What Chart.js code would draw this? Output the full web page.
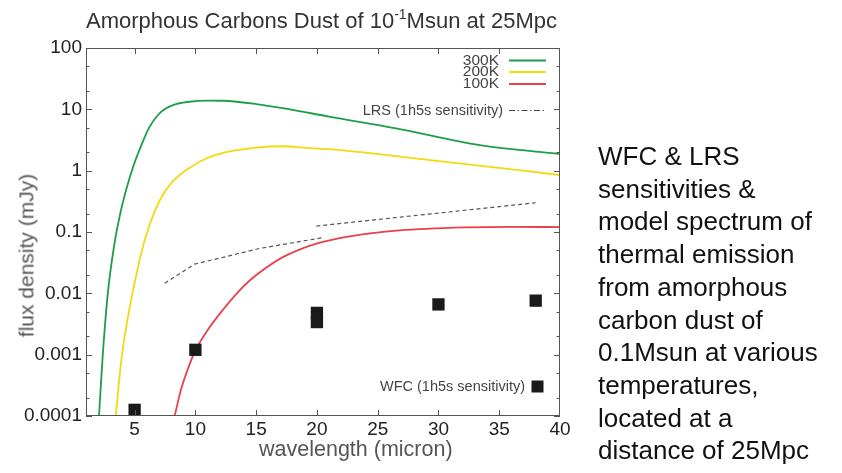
<!DOCTYPE html>
<html><head><meta charset="utf-8">
<script src="https://cdn.jsdelivr.net/npm/chart.js@4.4.1/dist/chart.umd.min.js"></script>
<style>
html,body{margin:0;padding:0;background:#fff;}
body{width:842px;height:473px;position:relative;overflow:hidden;font-family:"Liberation Sans",Arial,sans-serif;}
#c{position:absolute;left:0;top:0;}
#title{position:absolute;left:0;width:643px;top:8px;line-height:25px;text-align:center;font-size:22px;color:#333;white-space:nowrap;}
#title .sup{font-size:14px;position:relative;top:-9px;}
#xtitle{position:absolute;left:259px;top:437px;line-height:25px;font-size:21.5px;color:#555;white-space:nowrap;}
#ytitle{position:absolute;left:-74px;top:243px;width:200px;height:25px;line-height:25px;text-align:center;font-size:21px;color:#555;white-space:nowrap;transform:rotate(-90deg);}
#desc{position:absolute;left:598px;top:140px;font-size:26px;line-height:32.7px;color:#111;white-space:nowrap;}
</style>
</head><body>
<canvas id="c" width="842" height="473"></canvas>
<div id="title">Amorphous Carbons Dust of 10<span class="sup">-1</span>Msun at 25Mpc</div>
<div id="xtitle">wavelength (micron)</div>
<div id="ytitle">flux density (mJy)</div>
<div id="desc">WFC &amp; LRS<br>sensitivities &amp;<br>model spectrum of<br>thermal emission<br>from amorphous<br>carbon dust of<br>0.1Msun at various<br>temperatures,<br>located at a<br>distance of 25Mpc</div>
<script>
// ---- axis ticks ----
const xTicks = [5, 10, 15, 20, 25, 30, 35, 40];
const yTicks = [0.0001, 0.001, 0.01, 0.1, 1, 10, 100];
const yTickLabels = ['0.0001', '0.001', '0.01', '0.1', '1', '10', '100'];
const yMinorFactors = [2, 5];

// ---- model spectra (wavelength in micron, flux in mJy) ----
const seriesNames = ['300K', '200K', '100K'];
const wave300 = [2.07, 2.38, 2.8, 3.3, 3.8, 4.3, 4.9, 5.5, 6.2, 7.2, 8.2, 9.5, 11, 12.27, 15, 17.75, 21, 26.5, 33.4, 40];
const flux300 = [1e-4, 1e-3, 0.0102, 0.0575, 0.193, 0.484, 1.19, 2.44, 5.04, 9.16, 11.8, 13.3, 13.9, 13.8, 12.2, 10.0, 7.6, 4.9, 2.6, 1.87];
const wave200 = [3.45, 3.9, 4.35, 4.87, 5.83, 6.7, 7.4, 8.16, 9.53, 10.8, 12.27, 15, 17.2, 19.1, 21.5, 29.3, 40];
const flux200 = [1e-4, 7.9e-4, 0.00316, 0.0112, 0.074, 0.229, 0.427, 0.676, 1.12, 1.55, 1.95, 2.37, 2.5, 2.35, 2.2, 1.49, 0.85];
const wave100 = [8.3, 8.8, 9.4, 10, 11, 12.27, 13.64, 14.47, 15.7, 17.2, 19.95, 22.7, 26.8, 32.3, 36, 40];
const flux100 = [1e-4, 2.63e-4, 6.0e-4, 1.17e-3, 2.5e-3, 5.4e-3, 0.0112, 0.0162, 0.0251, 0.0389, 0.0646, 0.0851, 0.106, 0.119, 0.1216, 0.12];

// ---- LRS sensitivity (two segments) ----
const lrsWaveA = [7.48, 9.94, 12.6, 15.3, 20.5];
const lrsFluxA = [0.0146, 0.030, 0.040, 0.054, 0.081];
const lrsWaveB = [19.95, 38.0];
const lrsFluxB = [0.125, 0.30];

// ---- WFC sensitivity ----
const wfcWave = [5, 10, 20, 20, 30, 38];
const wfcFlux = [1.26e-4, 0.0012, 0.0048, 0.0034, 0.0066, 0.0076];

const seriesColors = ['#1f9e4a', '#f5d90f', '#e8414b'];
const FONT = '"Liberation Sans", Arial, sans-serif';

const pts = (xs, ys) => xs.map((x, i) => ({x: x, y: ys[i]}));

const lineDS = (label, xs, ys, color) => ({
  type: 'line', label: label, data: pts(xs, ys), borderColor: color, borderWidth: 1.8,
  pointRadius: 0, fill: false, cubicInterpolationMode: 'monotone'
});

const decorPlugin = {
  id: 'decor',
  afterDraw(chart) {
    const {ctx, chartArea: a, scales: {x, y}} = chart;
    ctx.save();
    ctx.strokeStyle = '#555';
    ctx.lineWidth = 1;
    ctx.strokeRect(a.left + 0.5, a.top + 0.5, a.right - a.left - 1, a.bottom - a.top - 1);
    ctx.beginPath();
    xTicks.forEach(v => {
      const px = Math.round(x.getPixelForValue(v)) + 0.5;
      if (px >= a.right - 1) return;
      ctx.moveTo(px, a.bottom); ctx.lineTo(px, a.bottom - 6);
      ctx.moveTo(px, a.top); ctx.lineTo(px, a.top + 6);
    });
    yTicks.forEach((v, i) => {
      const py = Math.round(y.getPixelForValue(v)) + 0.5;
      ctx.moveTo(a.left, py); ctx.lineTo(a.left + 6, py);
      ctx.moveTo(a.right, py); ctx.lineTo(a.right - 6, py);
      if (i < yTicks.length - 1) {
        yMinorFactors.forEach(f => {
          const my = Math.round(y.getPixelForValue(v * f)) + 0.5;
          ctx.moveTo(a.left, my); ctx.lineTo(a.left + 3.5, my);
          ctx.moveTo(a.right, my); ctx.lineTo(a.right - 3.5, my);
        });
      }
    });
    ctx.stroke();

    // legend: temperatures
    const tx = a.right - 61, lx0 = a.right - 51, lx1 = a.right - 14;
    const ly = [a.top + 12.5, a.top + 24, a.top + 36];
    ctx.font = '15.5px ' + FONT;
    ctx.textAlign = 'right';
    ctx.textBaseline = 'middle';
    seriesNames.forEach((n, i) => {
      ctx.fillStyle = '#444';
      ctx.fillText(n, tx, ly[i]);
      ctx.strokeStyle = seriesColors[i];
      ctx.lineWidth = 1.8;
      ctx.beginPath(); ctx.moveTo(lx0, ly[i]); ctx.lineTo(lx1, ly[i]); ctx.stroke();
    });
    // legend: LRS
    const lrsY = a.top + 62.5;
    ctx.font = '14.5px ' + FONT;
    ctx.fillStyle = '#444';
    ctx.fillText('LRS (1h5s sensitivity)', a.right - 57, lrsY);
    ctx.strokeStyle = '#444';
    ctx.lineWidth = 1;
    ctx.setLineDash([6, 2.5, 1.5, 2.5]);
    ctx.beginPath(); ctx.moveTo(lx0, lrsY); ctx.lineTo(a.right - 15, lrsY); ctx.stroke();
    ctx.setLineDash([]);
    // legend: WFC
    const wfcY = a.top + 338.5;
    ctx.fillText('WFC (1h5s sensitivity)', a.right - 35, wfcY);
    ctx.fillStyle = '#1a1a1a';
    ctx.fillRect(a.right - 28.5, wfcY - 6, 12, 12);
    ctx.restore();
  }
};

new Chart(document.getElementById('c'), {
  type: 'line',
  data: {
    datasets: [
      {
        type: 'scatter', label: 'WFC', data: pts(wfcWave, wfcFlux), pointStyle: 'rect',
        pointRadius: 8.7, pointHoverRadius: 8.7, backgroundColor: '#1a1a1a', borderWidth: 0, showLine: false, order: 0
      },
      Object.assign(lineDS('300K', wave300, flux300, seriesColors[0]), {order: 1}),
      Object.assign(lineDS('200K', wave200, flux200, seriesColors[1]), {order: 2}),
      Object.assign(lineDS('100K', wave100, flux100, seriesColors[2]), {order: 3}),
      {type: 'line', label: 'LRS', data: pts(lrsWaveA, lrsFluxA), borderColor: '#555', borderWidth: 1.2, borderDash: [4, 3], pointRadius: 0, tension: 0, order: 4},
      {type: 'line', label: 'LRS2', data: pts(lrsWaveB, lrsFluxB), borderColor: '#555', borderWidth: 1.2, borderDash: [4, 3], pointRadius: 0, tension: 0, order: 5}
    ]
  },
  options: {
    responsive: false,
    animation: false,
    devicePixelRatio: 1,
    layout: {padding: {top: 48, right: 282, left: 0, bottom: 0}},
    plugins: {legend: {display: false}, tooltip: {enabled: false}, title: {display: false}},
    scales: {
      x: {
        type: 'linear', min: 1, max: 40,
        afterBuildTicks: s => { s.ticks = xTicks.map(v => ({value: v})); },
        afterFit: s => { s.height = 57; },
        ticks: {font: {size: 19, family: FONT}, color: '#222', padding: 2, autoSkip: false, maxRotation: 0, callback: v => String(v)},
        grid: {display: false, drawTicks: false},
        border: {display: false}
      },
      y: {
        type: 'logarithmic', min: 1e-4, max: 100,
        afterBuildTicks: s => { s.ticks = yTicks.map(v => ({value: v})); },
        afterFit: s => { s.width = 86; },
        ticks: {font: {size: 19, family: FONT}, color: '#222', padding: 4, autoSkip: false,
          callback: v => { const i = yTicks.indexOf(v); return i >= 0 ? yTickLabels[i] : ''; }},
        grid: {display: false, drawTicks: false},
        border: {display: false}
      }
    }
  },
  plugins: [decorPlugin]
});
</script>
</body></html>
